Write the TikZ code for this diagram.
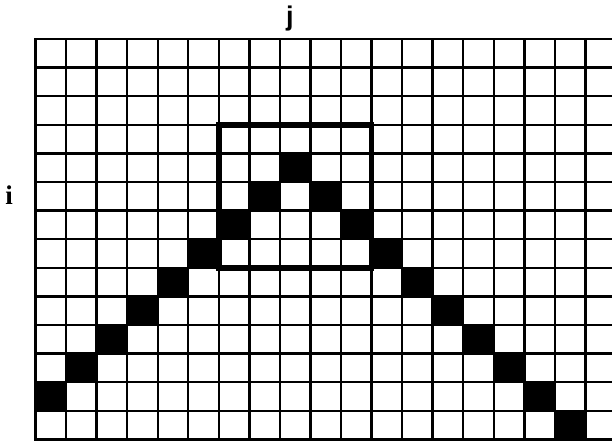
\documentclass[tikz,border=0pt]{standalone}
\usepackage{fontspec}
\setsansfont{Liberation Sans}
\newfontfamily\labelserif{Liberation Serif}
\usepackage{tikz}

\begin{document}
\begin{tikzpicture}[x=30.55pt, y=-28.6pt]
      \tikzstyle{gridline} = [line width=2.4pt, line cap=rect]
      \tikzstyle{hit} = [fill=black]
      \tikzstyle{window} = [line width=5.5pt, line join=miter]
      \tikzstyle{axislabel} = [inner sep=0pt, font=\fontsize{27}{27}\selectfont\bfseries]

      % Frame of the picture
      \path[use as bounding box, clip] (-1.162,-1.364) rectangle (18.87,14.02);

      % Filled cells (column/row)
      \foreach \c/\r in {8/4, 7/5, 9/5, 6/6, 10/6, 5/7, 11/7, 4/8, 12/8, 3/9, 13/9,
                         2/10, 14/10, 1/11, 15/11, 0/12, 16/12, 17/13}
        \fill[hit] (\c,\r) rectangle ++(1,1);

      % Grid
      \foreach \r in {0,...,14}
        \draw[gridline] (0,\r) -- (19.5,\r);
      \foreach \c in {0,...,19}
        \draw[gridline] (\c,0) -- (\c,14);

      % Window
      \draw[window] (6,3) rectangle (11,8);

      % Labels
      \node (jlab) [axislabel, font=\fontsize{27}{27}\selectfont\sffamily\bfseries] at (8.33,-0.72) {j};
      \node (ilab) [axislabel, font=\fontsize{27}{27}\selectfont\labelserif\bfseries] at (-0.86,5.45) {i};
    \end{tikzpicture}
\end{document}
